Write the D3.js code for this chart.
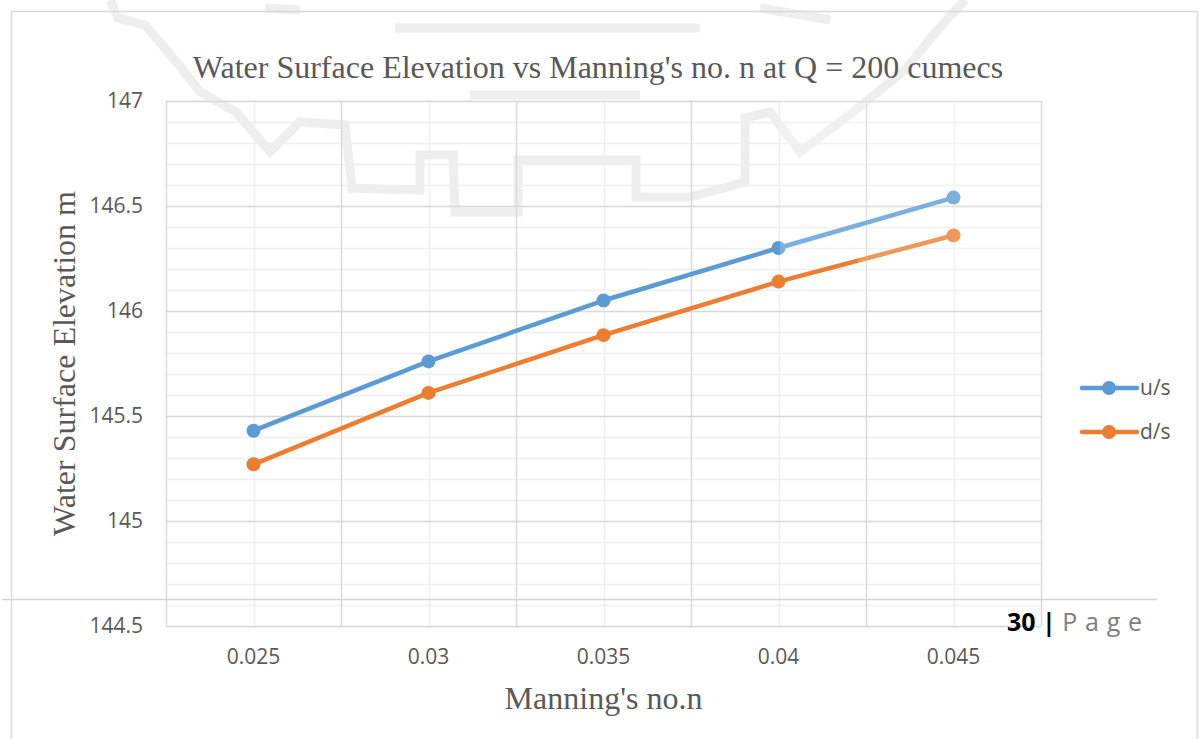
<!DOCTYPE html>
<html>
<head>
<meta charset="utf-8">
<script src="https://cdn.jsdelivr.net/npm/d3@7"></script>
<style>
  body { margin: 0; background: #fff; }
  svg { display: block; }
</style>
</head>
<body>
<svg id="chart" width="1199" height="739"></svg>
<script>
// Chart data
const categories = ['0.025', '0.03', '0.035', '0.04', '0.045'];
const upstream = [145.43, 145.76, 146.05, 146.30, 146.54];
const downstream = [145.27, 145.61, 145.885, 146.14, 146.36];
const yTicks = [144.5, 145, 145.5, 146, 146.5, 147];
const seriesNames = ['u/s', 'd/s'];
const seriesColors = ['#5B9BD5', '#ED7D31'];

const titleText = "Water Surface Elevation vs Manning's no. n at Q = 200 cumecs";
const xTitle = "Manning's no.n";
const yTitle = 'Water Surface Elevation m';

const svg = d3.select('#chart');
const plot = { left: 166, right: 1041, top: 101, bottom: 626 };

const x = d3.scaleBand().domain(categories).range([plot.left, plot.right]);
const y = d3.scaleLinear().domain([144.5, 147]).range([plot.bottom, plot.top]);

const sans = "'Open Sans', 'Noto Sans', sans-serif";
const serif = "'Liberation Serif', 'Times New Roman', serif";
const textGrey = '#595959';

/*
 * Faint page watermark (decoration behind the chart)
 */
const wm = svg.append('g')
  .attr('fill', 'none')
  .attr('stroke', '#e4e4e4')
  .attr('stroke-width', 9)
  .attr('opacity', 0.6);
wm.append('path').attr('d', 'M110,0 L118,18 L145,25 L175,60 L200,92 L236,112 L270,152 L300,122 L345,125 L352,188 L420,190 L420,155 L453,155 L455,212 L518,212 L518,160 L636,160 L636,197 L690,197 L745,182 L745,118 L770,112 L800,152 L853,112 L905,70 L935,33 L965,0');
wm.append('path').attr('d', 'M395,28 L700,28');
wm.append('path').attr('d', 'M265,8 L300,10 M760,8 L830,20 M470,95 L640,95');

/*
 * Gridlines
 */
const grid = svg.append('g');
const minorY = d3.range(0, 26).map(i => 144.5 + i * 0.1);
grid.selectAll('.minor-y')
  .data(minorY)
  .join('line')
  .attr('x1', plot.left).attr('x2', plot.right)
  .attr('y1', d => Math.round(y(d)) + 0.5).attr('y2', d => Math.round(y(d)) + 0.5)
  .attr('stroke', '#efefef').attr('stroke-width', 1.5);

grid.selectAll('.minor-x')
  .data(categories)
  .join('line')
  .attr('x1', d => Math.round(x(d) + x.bandwidth() / 2) + 0.5)
  .attr('x2', d => Math.round(x(d) + x.bandwidth() / 2) + 0.5)
  .attr('y1', plot.top).attr('y2', plot.bottom)
  .attr('stroke', '#efefef').attr('stroke-width', 1.5);

grid.selectAll('.major-y')
  .data(yTicks)
  .join('line')
  .attr('x1', plot.left).attr('x2', plot.right)
  .attr('y1', d => Math.round(y(d)) + 0.5).attr('y2', d => Math.round(y(d)) + 0.5)
  .attr('stroke', '#d9d9d9').attr('stroke-width', 1.5);

const bounds = categories.map(c => x(c)).concat([plot.right]);
grid.selectAll('.major-x')
  .data(bounds)
  .join('line')
  .attr('x1', d => Math.round(d) + 0.5).attr('x2', d => Math.round(d) + 0.5)
  .attr('y1', plot.top).attr('y2', plot.bottom)
  .attr('stroke', '#d9d9d9').attr('stroke-width', 1.5);

/*
 * Axes
 */
const yAxis = svg.append('g')
  .attr('transform', `translate(${plot.left},0)`)
  .call(d3.axisLeft(y).tickValues(yTicks).tickFormat(d => String(d)).tickSize(0).tickPadding(23));
yAxis.select('.domain').remove();
yAxis.selectAll('text')
  .attr('font-family', sans).attr('font-size', 21).attr('fill', textGrey);

const xAxis = svg.append('g')
  .attr('transform', `translate(0,${plot.bottom})`)
  .call(d3.axisBottom(x).tickSize(0).tickPadding(23));
xAxis.select('.domain').remove();
xAxis.selectAll('text')
  .attr('font-family', sans).attr('font-size', 21).attr('fill', textGrey);

/*
 * Series
 */
const series = [upstream, downstream];
const line = d3.line()
  .x((d, i) => x(categories[i]) + x.bandwidth() / 2)
  .y(d => y(d));

series.forEach((vals, s) => {
  svg.append('path')
    .datum(vals)
    .attr('d', line)
    .attr('fill', 'none')
    .attr('stroke', seriesColors[s])
    .attr('stroke-width', 4.5)
    .attr('stroke-linejoin', 'round');
  svg.append('g')
    .selectAll('circle')
    .data(vals)
    .join('circle')
    .attr('cx', (d, i) => x(categories[i]) + x.bandwidth() / 2)
    .attr('cy', d => y(d))
    .attr('r', 7)
    .attr('fill', seriesColors[s]);
});

// slight washed-out area over the upper right (from the scanned page)
svg.append('path')
  .attr('d', 'M780,101 L1041,101 L1041,300 L858,300 L858,256 L780,256 Z')
  .attr('fill', '#fff')
  .attr('opacity', 0.2);

/*
 * Titles
 */
svg.append('text')
  .attr('x', 598).attr('y', 78)
  .attr('text-anchor', 'middle')
  .attr('font-family', serif).attr('font-size', 32)
  .attr('fill', textGrey)
  .text(titleText);

svg.append('text')
  .attr('x', (plot.left + plot.right) / 2).attr('y', 709)
  .attr('text-anchor', 'middle')
  .attr('font-family', serif).attr('font-size', 32)
  .attr('fill', textGrey)
  .text(xTitle);

svg.append('text')
  .attr('transform', `translate(75,${(plot.top + plot.bottom) / 2}) rotate(-90)`)
  .attr('text-anchor', 'middle')
  .attr('font-family', serif).attr('font-size', 32)
  .attr('fill', textGrey)
  .text(yTitle);

/*
 * Legend
 */
const legend = svg.append('g');
seriesNames.forEach((name, s) => {
  const ly = 388 + s * 44;
  legend.append('line')
    .attr('x1', 1082).attr('x2', 1137)
    .attr('y1', ly).attr('y2', ly)
    .attr('stroke', seriesColors[s]).attr('stroke-width', 4.5)
    .attr('stroke-linecap', 'round');
  legend.append('circle')
    .attr('cx', 1109).attr('cy', ly).attr('r', 7)
    .attr('fill', seriesColors[s]);
  legend.append('text')
    .attr('x', 1140).attr('y', ly)
    .attr('dy', '0.35em')
    .attr('font-family', sans).attr('font-size', 21)
    .attr('fill', textGrey)
    .text(name);
});

/*
 * Chart frame and page footer
 */
svg.append('rect')
  .attr('x', 11.5).attr('y', 11.5)
  .attr('width', 1186).attr('height', 800)
  .attr('fill', 'none')
  .attr('stroke', '#d9d9d9').attr('stroke-width', 1.5);

svg.append('line')
  .attr('x1', 2).attr('x2', 1157)
  .attr('y1', 599.5).attr('y2', 599.5)
  .attr('stroke', '#d4d4d4').attr('stroke-width', 1.5);

const footer = svg.append('text')
  .attr('x', 1007).attr('y', 631)
  .attr('font-family', sans).attr('font-size', 25);
footer.append('tspan').attr('font-weight', 'bold').attr('fill', '#000').text('30 | ');
footer.append('tspan').attr('fill', '#7f7f7f').attr('letter-spacing', 0.6).text('P a g e');
</script>
</body>
</html>
